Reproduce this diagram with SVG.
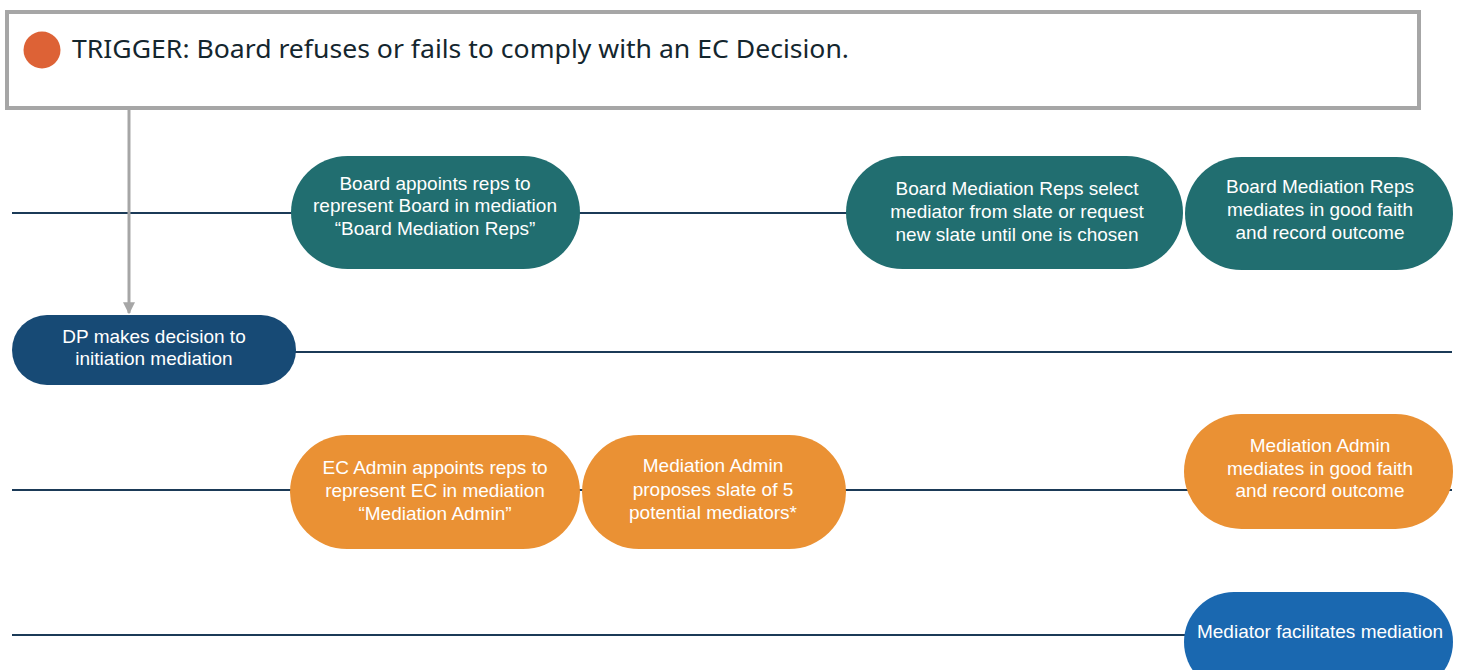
<svg xmlns="http://www.w3.org/2000/svg" width="1465" height="670" viewBox="0 0 1465 670">
<style>
.lane{stroke:#1b3a57;stroke-width:2;fill:none}
.t{font-family:"Liberation Sans",Arial,sans-serif;font-size:19px;fill:#ffffff;text-anchor:middle}
.teal{fill:#216e70}
.orange{fill:#ea9134}
.navy{fill:#174a75}
.blue{fill:#1a68b0}
</style>
<defs>
<marker id="arr" viewBox="0 0 10 10" refX="9" refY="5" markerWidth="4" markerHeight="4" orient="auto" markerUnits="strokeWidth">
<path d="M0,0 L10,5 L0,10 z" fill="#a6a6a6"/>
</marker>
</defs>
<rect width="1465" height="670" fill="#ffffff"/>
<g id="connectors">
<line class="lane" x1="12" y1="213" x2="850" y2="213"/>
<line class="lane" x1="290" y1="352" x2="1452" y2="352"/>
<line class="lane" x1="12" y1="490" x2="1452" y2="490"/>
<line class="lane" x1="12" y1="635" x2="1190" y2="635"/>
<line x1="129" y1="110" x2="129" y2="313" stroke="#a6a6a6" stroke-width="3" marker-end="url(#arr)"/>
</g>
<g id="trigger">
<rect x="7" y="12" width="1412" height="96" fill="#ffffff" stroke="#a6a6a6" stroke-width="4"/>
<circle cx="42" cy="50" r="18.5" fill="#dd6236"/>
<text x="72" y="58" font-family="'Source Sans Pro','Noto Sans',sans-serif" font-size="26" fill="#14262e" textLength="777" lengthAdjust="spacingAndGlyphs">TRIGGER: Board refuses or fails to comply with an EC Decision.</text>
</g>
<g id="board-appoints">
<rect class="teal" x="291" y="156" width="289" height="113" rx="56.5"/>
<text class="t" x="435" y="190">Board appoints reps to</text>
<text class="t" x="435" y="212">represent Board in mediation</text>
<text class="t" x="435" y="235">“Board Mediation Reps”</text>
</g>
<g id="board-select">
<rect class="teal" x="846" y="156" width="337" height="113" rx="56.5"/>
<text class="t" x="1017" y="195">Board Mediation Reps select</text>
<text class="t" x="1017" y="218">mediator from slate or request</text>
<text class="t" x="1017" y="241">new slate until one is chosen</text>
</g>
<g id="board-mediates">
<rect class="teal" x="1185" y="157" width="268" height="113" rx="56.5"/>
<text class="t" x="1320" y="193">Board Mediation Reps</text>
<text class="t" x="1320" y="216">mediates in good faith</text>
<text class="t" x="1320" y="239">and record outcome</text>
</g>
<g id="dp-decision">
<rect class="navy" x="12" y="315" width="284" height="70" rx="35"/>
<text class="t" x="154" y="343">DP makes decision to</text>
<text class="t" x="154" y="365">initiation mediation</text>
</g>
<g id="ec-admin">
<rect class="orange" x="290" y="435" width="290" height="114" rx="57"/>
<text class="t" x="435" y="474">EC Admin appoints reps to</text>
<text class="t" x="435" y="497">represent EC in mediation</text>
<text class="t" x="435" y="520">“Mediation Admin”</text>
</g>
<g id="mediation-admin-proposes">
<rect class="orange" x="582" y="435" width="264" height="114" rx="57"/>
<text class="t" x="713" y="472">Mediation Admin</text>
<text class="t" x="713" y="496">proposes slate of 5</text>
<text class="t" x="713" y="519">potential mediators*</text>
</g>
<g id="mediation-admin-mediates">
<rect class="orange" x="1184" y="414" width="269" height="115" rx="57.5"/>
<text class="t" x="1320" y="452">Mediation Admin</text>
<text class="t" x="1320" y="475">mediates in good faith</text>
<text class="t" x="1320" y="497">and record outcome</text>
</g>
<g id="mediator">
<rect class="blue" x="1184" y="592" width="269" height="100" rx="50"/>
<text class="t" x="1320" y="638">Mediator facilitates mediation</text>
</g>
</svg>
